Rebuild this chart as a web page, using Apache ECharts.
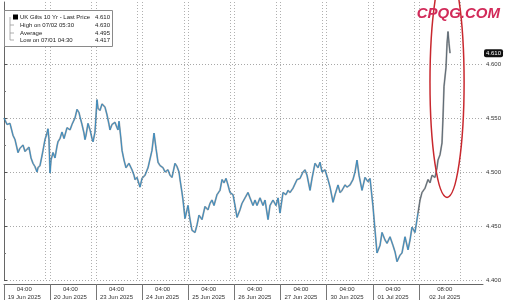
<!DOCTYPE html>
<html><head><meta charset="utf-8">
<script src="https://cdn.jsdelivr.net/npm/echarts@6/dist/echarts.min.js"></script>
<style>html,body{margin:0;padding:0;background:#fff}#c{width:508px;height:302px}</style>
</head><body><div id="c"></div>
<script>
// x position in trading-day units (0 = start of 19 Jun session)
const xPos = [0.000,0.065,0.130,0.195,0.239,0.304,0.347,0.412,0.456,0.499,0.542,0.586,0.629,0.672,0.716,0.738,0.781,0.824,0.846,0.889,0.933,0.954,0.976,0.998,
1.020,1.063,1.106,1.150,1.171,1.215,1.258,1.302,1.367,1.432,1.475,1.540,1.584,1.627,1.649,1.692,1.735,1.757,1.779,1.822,1.866,1.909,1.931,1.974,
2.017,2.039,2.082,2.126,2.191,2.234,2.278,2.299,2.343,2.408,2.451,2.473,2.495,2.538,2.560,2.603,2.646,2.711,2.777,2.820,2.842,2.885,2.950,2.993,
3.059,3.124,3.167,3.210,3.254,3.297,3.341,3.384,3.449,3.492,3.557,3.601,3.644,3.709,3.753,3.796,3.818,3.861,3.883,3.926,3.970,3.991,
4.035,4.078,4.143,4.187,4.230,4.295,4.360,4.425,4.469,4.512,4.555,4.620,4.685,4.729,4.772,4.816,4.859,4.902,4.967,
5.011,5.054,5.119,5.163,5.228,5.293,5.336,5.401,5.445,5.488,5.553,5.618,5.662,5.727,5.770,5.835,5.900,5.944,5.987,
6.052,6.117,6.161,6.204,6.269,6.356,6.421,6.486,6.529,6.573,6.638,6.681,6.746,6.811,6.855,6.898,6.963,
7.028,7.072,7.137,7.180,7.245,7.289,7.332,7.397,7.440,7.505,7.570,7.614,7.657,7.701,7.766,7.831,7.896,7.940,
8.004,8.048,8.091,8.156,8.200,8.265,8.308,8.373,8.438,8.482,8.525,8.590,8.633,8.698,8.764,8.807,8.850,8.915,8.980,
9.024,9.067,9.132,9.197,9.241,9.284,9.349,9.393,9.414,9.458,9.501,9.523,9.544,9.588,9.610,9.631,9.653,9.675];
const yields = [4.550,4.544,4.545,4.534,4.530,4.518,4.522,4.525,4.519,4.520,4.523,4.513,4.508,4.505,4.500,4.504,4.506,4.515,4.520,4.530,4.536,4.540,4.530,4.499,
4.511,4.518,4.513,4.524,4.528,4.531,4.537,4.531,4.541,4.539,4.544,4.550,4.558,4.555,4.551,4.544,4.536,4.530,4.534,4.545,4.539,4.531,4.528,4.537,
4.567,4.559,4.557,4.563,4.560,4.553,4.544,4.539,4.544,4.546,4.541,4.539,4.547,4.530,4.520,4.511,4.504,4.508,4.502,4.497,4.493,4.495,4.486,4.494,
4.497,4.504,4.505,4.520,4.536,4.522,4.509,4.506,4.504,4.500,4.502,4.497,4.495,4.508,4.505,4.500,4.493,4.481,4.474,4.457,4.465,4.469,
4.456,4.446,4.444,4.451,4.460,4.456,4.468,4.465,4.471,4.474,4.469,4.479,4.483,4.493,4.490,4.494,4.488,4.481,4.479,
4.469,4.458,4.465,4.471,4.476,4.481,4.476,4.469,4.474,4.469,4.476,4.469,4.474,4.456,4.469,4.474,4.469,4.476,4.462,
4.481,4.479,4.483,4.481,4.485,4.493,4.494,4.500,4.502,4.497,4.483,4.494,4.508,4.504,4.509,4.500,4.502,
4.493,4.486,4.472,4.479,4.488,4.481,4.483,4.488,4.486,4.488,4.493,4.500,4.511,4.497,4.483,4.495,4.491,4.494,
4.468,4.446,4.425,4.432,4.444,4.437,4.434,4.440,4.432,4.426,4.417,4.423,4.425,4.440,4.428,4.437,4.449,4.444,4.462,
4.474,4.481,4.485,4.493,4.490,4.497,4.495,4.504,4.511,4.516,4.527,4.551,4.579,4.597,4.619,4.630,4.619,4.610];

const dayStarts = [0,1,2,3,4,5,6,7,8,9];
const labelPos = [0.44,1.44,2.44,3.44,4.44,5.44,6.44,7.44,8.44,9.56];
const timeLabels = ['04:00','04:00','04:00','04:00','04:00','04:00','04:00','04:00','04:00','08:00'];
const dateLabels = ['19 Jun 2025','20 Jun 2025','23 Jun 2025','24 Jun 2025','25 Jun 2025','26 Jun 2025','27 Jun 2025','30 Jun 2025','01 Jul 2025','02 Jul 2025'];
const gridXPos = [0,0.9,1,1.9,2,2.9,3,3.9,4,4.9,5,5.9,6,6.9,7,7.9,8,8.9,9,9.89];
const yTicks = [4.40,4.45,4.50,4.55,4.60];
const legendNames = ['UK Gilts 10 Yr - Last Price','High on 07/02 05:30','Average','Low on 07/01 04:30'];
const legendValues = [4.610,4.630,4.495,4.417];
const lastPrice = 4.610;
const rallyStart = 8.98;   // 02 Jul sell-off drawn in grey
const highlight = {x:9.61, y:4.583, rx:0.37, ry:0.1065};

const X_MAX = 10.39, Y_MIN = 4.40, Y_MAX = 4.6574;
const FONT = '"Liberation Sans", Arial, sans-serif';
const data = xPos.map((x,i)=>[x, yields[i]]);
const dataMain = data.filter(d=>d[0] <= rallyStart);
const dataRally = data.filter(d=>d[0] >= rallyStart);

const chart = echarts.init(document.getElementById('c'));
chart.setOption({
  animation:false,
  backgroundColor:'#fff',
  grid:{left:4, right:25, top:2, bottom:22},
  xAxis:[
    {type:'value', min:0, max:X_MAX, position:'bottom', offset:4,
     axisLine:{show:true, lineStyle:{color:'#666', width:1}},
     axisTick:{show:true, customValues:dayStarts, length:16, inside:false, lineStyle:{color:'#777'}},
     axisLabel:{customValues:labelPos, margin:1, fontSize:6, lineHeight:8, color:'#333', fontFamily:FONT,
       formatter:(v)=>{const i=labelPos.findIndex(p=>Math.abs(p-v)<1e-6); return i<0?'':timeLabels[i]+'\n'+dateLabels[i];}},
     splitLine:{show:false}},
    {type:'value', min:0, max:X_MAX, position:'bottom',
     axisLine:{show:false}, axisTick:{show:false, customValues:gridXPos}, axisLabel:{show:false},
     splitLine:{show:true, lineStyle:{type:[1,2], color:'#b0b0b0', width:1}}}
  ],
  yAxis:{type:'value', position:'right', min:Y_MIN, max:Y_MAX, interval:0.05,
    axisLine:{show:true, lineStyle:{color:'#666'}},
    axisTick:{show:true, customValues:yTicks, length:3, lineStyle:{color:'#555'}},
    minorTick:{show:true, splitNumber:2, length:2, lineStyle:{color:'#777'}},
    axisLabel:{customValues:yTicks, formatter:(v)=>Number(v).toFixed(3), fontSize:6, color:'#333', margin:3, fontFamily:FONT},
    splitLine:{show:true, lineStyle:{type:[1,2], color:'#a8a8a8', width:1}},
    axisPointer:{show:true, value:lastPrice, status:'show', type:'line', triggerTooltip:false,
      lineStyle:{opacity:0},
      label:{show:true, formatter:(p)=>Number(p.value).toFixed(3), backgroundColor:'#111', color:'#fff',
        fontSize:6, fontFamily:FONT, padding:[1,2], borderRadius:2, margin:1}}
  },
  series:[
    {type:'line', data:data, showSymbol:false, silent:true, z:2, color:'#2a2a2a',
     lineStyle:{color:'#2a2a2a', width:1.8, opacity:0.4}},
    {type:'line', data:dataMain, showSymbol:false, silent:true, z:3, color:'#3a8cc0',
     lineStyle:{color:'#3a8cc0', width:1}},
    {type:'line', data:dataRally, showSymbol:false, silent:true, z:3, color:'#5d6a75',
     lineStyle:{color:'#5d6a75', width:1}}
  ]
});

// annotations
const c = chart.convertToPixel({gridIndex:0}, [highlight.x, highlight.y]);
const e1 = chart.convertToPixel({gridIndex:0}, [highlight.x+highlight.rx, highlight.y+highlight.ry]);
const rowY = [17,25,33,40];
const LFONT = '6px "Liberation Sans", Arial, sans-serif';
const g = [];
g.push({type:'ellipse', shape:{cx:c[0], cy:c[1], rx:Math.abs(e1[0]-c[0]), ry:Math.abs(c[1]-e1[1])},
  style:{fill:'none', stroke:'#c8282e', lineWidth:1.5}, z:50});
g.push({type:'text', style:{text:'CPQG.COM', x:500, y:14, align:'right', verticalAlign:'middle',
  font:'italic bold 15px "Liberation Sans", Arial, sans-serif', fill:'#d22b5a'}, z:60});
g.push({type:'rect', shape:{x:4.5, y:10.5, width:108, height:36}, style:{fill:'#fff', stroke:'#8a8a8a', lineWidth:1}, z:40});
g.push({type:'line', shape:{x1:10, y1:rowY[0], x2:10, y2:rowY[3]}, style:{stroke:'#999', lineWidth:0.8}, z:41});
g.push({type:'rect', shape:{x:13, y:14.5, width:5, height:5}, style:{fill:'#000'}, z:41});
for (let i=1;i<4;i++){
  g.push({type:'line', shape:{x1:10, y1:rowY[i], x2:14, y2:rowY[i]}, style:{stroke:'#999', lineWidth:0.8}, z:41});
}
legendNames.forEach((n,i)=>{
  g.push({type:'text', style:{text:n, x:20, y:rowY[i], verticalAlign:'middle', font:LFONT, fill:'#222'}, z:42});
  g.push({type:'text', style:{text:legendValues[i].toFixed(3), x:110, y:rowY[i], align:'right', verticalAlign:'middle', font:LFONT, fill:'#222'}, z:42});
});
chart.setOption({graphic:g});
</script></body></html>
